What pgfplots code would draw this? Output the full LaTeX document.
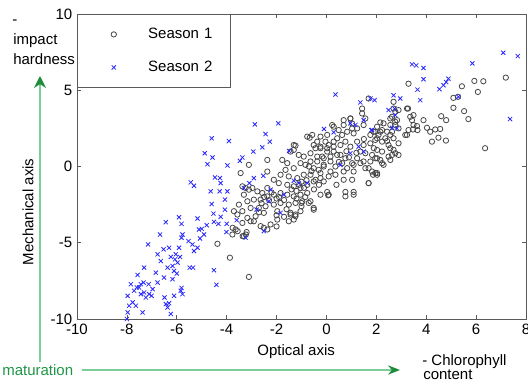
\documentclass[border=0pt]{standalone}
\usepackage{fontspec}
\setmainfont{Liberation Sans}
\usepackage{pgfplots}
\pgfplotsset{compat=1.18}
\usetikzlibrary{arrows.meta}
\definecolor{arrowgreen}{RGB}{125,205,155}
\definecolor{headgreen}{RGB}{30,140,60}
\definecolor{textgreen}{RGB}{30,150,70}
\definecolor{axgray}{RGB}{90,90,90}
\definecolor{s2blue}{RGB}{40,40,255}
\newcommand{\fs}{\fontsize{11.25}{13}\selectfont}
\begin{document}
\begin{tikzpicture}
\begin{axis}[
  at={(0,0)}, anchor=south west, scale only axis,
  width=336.75pt, height=228.75pt,
  xmin=-10, xmax=8, ymin=-10, ymax=10,
  xtick={-10,-8,...,8}, ytick={-10,-5,0,5,10},
  tick align=inside, major tick length=3pt,
  axis line style={axgray, line width=0.6pt},
  tick style={axgray, line width=0.5pt},
  tick label style={font=\fs},
  /pgf/number format/assume math mode=true,
  xlabel={Optical axis}, ylabel={Mechanical axis},
  label style={font=\fs},
  xlabel style={at={(axis description cs:0.488,-0.1082)}, anchor=center},
  ylabel style={at={(axis description cs:-0.1091,0.351)}, anchor=center},
  legend cell align=left,
  legend style={at={(0,1)}, anchor=north west, draw=axgray, line width=0.6pt,
    inner xsep=7pt, inner ysep=9.5pt, row sep=13.75pt, font=\fs,
    nodes={inner sep=0pt, text height=8.5pt, text depth=2.5pt, text width=54.5pt}},
  legend image code/.code={\path (0pt,0pt) (45.5pt,0pt); \draw[#1, only marks] plot coordinates {(20pt,0pt)};},
]
\addplot[only marks, mark=o, mark size=2pt, mark options={draw=black!72, line width=0.6pt}] coordinates {
(7.19,5.83)(5.93,5.61)(6.29,5.59)(6.07,4.89)(5.43,5.26)(5.09,4.5)(5.27,4.57)(5.09,3.85)(5.52,3.63)(5.69,3.11)(6.36,1.2)(3.29,5.43)(3.27,3.80)(3.49,3.37)(3.43,3.04)(3.29,2.39)(3.16,2.07)(3.47,2.43)(3.65,2.39)(3.89,3.04)(4.03,2.54)(4.16,2.28)(4.36,2.43)(4.56,2.46)(4.6,3.30)(4.8,3.04)(4.23,1.63)(4.49,1.89)(4.79,1.70)(2.69,4.24)(2.69,3.80)(2.89,3.70)(2.56,3.15)(2.83,3.04)(2.76,2.72)(2.89,2.50)(2.63,2.28)(3.23,3.80)(1.43,3.80)(1.69,4.46)(2.29,2.83)(2.16,2.28)(1.96,2.28)(2.03,1.85)(2.23,1.63)(2.36,1.85)(2.49,1.41)(2.89,1.52)(2.69,1.09)(2.63,0.76)(2.89,0.76)(2.49,0.65)(2.16,0.43)(1.96,0.54)(2.29,0.11)(1.69,-0.11)(1.87,-0.54)(1.69,-1.09)(2.03,-0.43)(1.09,-1.85)(0.76,-1.96)(0.07,-1.89)
(2.76,3.59)(2.63,3.26)(2.76,2.93)(2.56,2.72)(3.36,3.26)(3.49,2.72)(3.63,2.65)(3.23,2.07)(2.16,2.89)(2.03,2.61)(2.23,2.39)(1.89,2.28)(2.09,2.07)(2.43,2.28)(2.56,2.07)(2.69,1.85)(2.43,1.67)(1.96,1.74)(1.76,2.07)(1.49,2.72)(1.56,3.15)(1.43,3.48)(0.96,3.15)(1.03,2.82)(1.23,2.50)(1.09,2.17)(0.83,2.28)(0.69,2.72)(0.63,2.07)(0.43,1.85)(0.23,2.72)(0.03,2.07)(-0.04,1.63)(-0.24,1.96)(-0.37,1.63)(-0.57,2.07)(-0.51,1.41)(-0.24,1.20)(0.09,1.41)(0.29,1.63)(0.56,1.41)(0.76,1.63)(0.96,1.30)(1.23,1.63)(1.49,1.41)(1.76,1.52)(1.36,0.98)(1.56,0.87)(1.83,0.76)(2.03,1.09)(2.23,0.98)(2.56,1.20)(2.76,0.87)(2.56,0.43)(2.23,0.22)(2.03,0.54)(1.76,0.33)(1.49,0.33)(1.23,0.54)(1.03,0.22)(0.76,0.54)(0.56,0.76)(0.29,0.98)(0.03,0.98)(-0.17,0.65)(-0.37,0.33)(-0.51,-0.11)(-0.11,0.11)(0.16,0.33)(0.36,0.0)(0.63,0.22)(0.83,-0.11)(1.09,0.11)(1.36,0.22)(1.56,-0.11)(1.83,-0.33)(2.03,-0.54)(1.09,-0.33)(0.69,-0.33)(0.36,-0.54)(0.09,-0.65)(-0.24,-0.43)(-0.44,-0.87)(-0.11,-0.98)(0.69,-0.87)(1.03,-0.87)(1.69,-1.09)(1.96,-0.43)(1.09,-1.67)(0.76,-1.67)(0.03,-1.67)
(-1.31,1.41)(-1.44,0.98)(-1.11,0.76)(-0.91,0.65)(-0.64,0.87)(-0.44,1.2)(-0.24,1.30)(0.03,1.2)(0.29,1.30)(0.43,0.76)(0.16,0.65)(-0.11,0.54)(-0.37,0.65)(-0.64,0.33)(-0.84,0.11)(-1.04,0.22)(-1.31,-0.11)(-1.57,0.22)(-1.77,0.43)(-1.64,-0.22)(-1.84,-0.54)(-1.51,-0.65)(-1.17,-0.76)(-0.91,-0.54)(-0.64,-0.54)(-0.31,-0.22)(-0.11,0.0)(0.16,-0.33)(-0.24,-0.76)(-0.51,-0.98)(-0.77,-1.2)(-1.04,-1.41)(-1.31,-1.30)(-1.57,-1.2)(-1.91,-1.09)(-2.11,-0.87)(-2.37,-1.41)(-2.57,-1.74)(-2.77,-1.63)(-2.97,-1.41)(-3.24,-1.41)(-3.31,-1.85)(-2.91,-2.17)(-2.64,-2.17)(-2.37,-1.96)(-2.11,-1.85)(-1.84,-1.74)(-1.57,-1.85)(-1.31,-1.96)(-1.04,-1.85)(-0.77,-1.74)(-0.97,-2.28)(-1.24,-2.39)(-1.51,-2.50)(-1.84,-2.39)(-2.11,-2.50)(-2.44,-2.61)(-2.71,-2.72)(-3.04,-2.72)(-3.37,-2.93)(-3.57,-3.15)(-3.17,-3.37)(-2.84,-3.26)(-2.51,-3.04)(-1.97,-2.93)(-1.44,-3.04)(-1.24,-3.26)(-1.51,-3.59)(-1.97,-3.48)(-2.24,-3.80)(-2.51,-4.02)(-3.04,-3.59)(-3.37,-3.70)(-3.64,-4.13)(-3.31,-4.56)(-0.51,-2.72)(-0.24,-1.85)(0.09,-1.85)(-0.64,-2.28)
(-3.87,-5.98)(-3.11,-7.24)(-4.37,-5.07)(-3.76,-4.02)(-3.56,-4.24)(-3.36,-4.57)(-3.23,-4.46)(-3.71,-2.93)(-3.51,-2.5)(-3.17,-2.28)(-3.37,-1.30)(-3.11,-1.52)(-3.44,-0.43)(-3.11,0.11)(-2.37,0.43)(-2.37,-0.33)(-2.91,-3.59)(-2.64,-3.91)(-2.37,-4.13)(-2.0,-3.93)(-1.44,-3.15)(-1.31,-3.48)(-1.24,-3.15)(-1.04,-2.93)(-0.71,-2.39)(-0.51,-2.83)(-1.0,-2.39)(-0.77,1.96)(-0.67,1.89)(-1.24,1.37)(-1.31,1.09)(0.29,2.61)(0.49,2.39)(0.69,3.04)(0.96,3.15)(1.03,2.50)(-3.77,-4.46)(-3.2,-4.3)
(-2.5,-2.0)(-2.3,-2.2)(-2.2,-1.7)(-2.6,-2.4)(-2.0,-2.1)(-1.9,-2.0)(-1.7,-2.2)(-1.2,-1.6)(-1.1,-1.2)(-0.9,-1.4)(-1.0,-1.0)(-0.8,-0.9)(-1.4,-1.5)(-1.2,-2.1)(-1.6,-2.8)(-1.0,-2.6)(-0.85,-2.0)(-2.7,-3.0)(-2.0,-3.2)(-1.7,-3.3)(-0.5,-1.5)(-0.3,-1.2)(0.4,-1.2)(0.5,0.3)(0.9,0.6)(1.2,0.9)(1.5,1.8)(1.9,1.2)(0.8,1.0)(-0.7,0.0)(-0.6,-0.3)
};
\addlegendentry{Season 1}
\addplot[only marks, mark=x, mark size=2.2pt, color=s2blue, mark options={line width=0.6pt}] coordinates {
(7.09,7.46)(7.67,7.24)(7.36,3.11)(5.85,6.76)(3.43,6.70)(3.6,6.63)(3.89,6.46)(3.89,5.72)(3.65,5.04)(3.76,4.35)(4.53,5.07)(4.69,5.33)(4.8,5.54)(4.89,5.76)(5.29,4.57)(2.69,4.67)(2.73,3.80)(2.49,3.70)(2.96,4.46)(2.76,3.37)(2.83,2.5)(2.63,2.54)(1.76,4.46)(1.93,4.35)(1.36,4.2)(0.36,4.72)(-0.1,2.46)(0.29,2.24)(0.96,2.83)(1.16,2.72)(1.49,3.04)(1.8,2.39)(1.29,1.3)(0.56,0.1)(-1.5,1.02)(-1.93,2.83)(-2.87,2.76)(-2.44,2.13)(-2.27,1.63)(-2.57,1.26)(-2.93,0.98)(-3.37,0.59)(-3.47,0.37)(-3.91,1.67)(-3.97,0.07)(-4.6,1.85)(-4.88,0.87)(-4.77,0.15)(-4.57,0.59)(-5.44,-1.04)(-5.31,-1.26)(-4.47,-0.72)(-4.27,-0.76)(-4.24,-1.09)(-4.64,-1.63)(-4.28,-1.63)(-3.97,-1.63)(-4.07,-2.17)(-4.6,-2.46)(-4.53,-3.09)(-4.07,-2.83)(-4.24,-3.30)(-4.51,-3.63)(-4.33,-3.76)(-4.0,-3.76)(-3.6,-3.52)(-4.01,-4.30)(-5.17,-3.41)(-5.11,-4.13)(-5.0,-4.09)(-4.8,-3.85)(-4.91,-4.46)(-5.07,-4.72)(-5.17,-5.33)(-5.37,-5.11)(-5.31,-5.54)(-5.48,-6.63)(-5.35,-6.63)(-5.53,-4.89)(-5.91,-3.33)(-5.81,-3.76)(-5.77,-4.46)(-5.81,-4.67)(-5.91,-5.33)(-6.04,-5.76)(-5.87,-5.93)(-6.07,-6.09)(-5.97,-6.30)(-6.17,-6.52)(-6.11,-6.85)(-6.0,-7.02)(-6.31,-5.33)(-6.53,-5.43)(-6.24,-5.93)(-6.37,-6.63)(-6.51,-7.28)(-6.17,-7.39)(-6.67,-4.46)(-6.44,-3.65)(-6.77,-5.76)(-6.64,-6.2)(-6.84,-6.96)(-6.77,-7.61)(-7.15,-5.11)(-7.31,-6.63)(-7.33,-7.61)(-7.57,-7.11)(-7.44,-7.72)(-7.51,-7.93)(-7.13,-7.72)(-6.97,-8.04)(-7.31,-8.26)(-7.11,-8.37)(-7.01,-8.48)(-7.24,-8.59)(-7.44,-8.37)(-7.6,-7.93)(-7.84,-7.72)(-7.71,-8.15)(-7.97,-8.48)(-7.77,-8.91)(-7.91,-9.13)(-7.97,-9.57)(-7.64,-9.13)(-7.37,-9.57)(-8.0,-10.0)(-6.49,-8.59)(-6.44,-9.02)(-6.31,-8.96)(-6.37,-9.24)(-6.24,-9.67)(-6.11,-8.48)(-5.84,-8.15)(-5.77,-8.37)(-5.81,-7.96)(-4.51,-6.80)(-4.41,-7.76)(-2.53,-0.61)(-2.91,-0.76)(-3.09,-1.09)(-3.31,-1.41)(-1.71,-1.85)(-2.24,-1.52)(-1.84,-3.04)(-2.51,-4.24)(-2.8,-2.83)(-3.24,-4.67)(-2.31,-2.28)(-1.11,-1.09)(-0.77,-1.09)(-1.31,-0.93)(0.96,0.87)(1.49,0.98)(1.83,2.39)
};
\addlegendentry{Season 2}
\end{axis}
\begin{scope}[x=0.75pt, y=0.75pt, font=\fs]
  \node[anchor=base west, inner sep=0pt] at (-65,294.5) {-};
  \node[anchor=base west, inner sep=0pt] at (-64,275) {impact};
  \node[anchor=base west, inner sep=0pt] at (-64,255) {hardness};
  \draw[arrowgreen, line width=1pt, -{Stealth[length=9pt, width=9pt, color=headgreen]}] (-37,-43) -- (-37,243);
  \draw[arrowgreen, line width=1pt, -{Stealth[length=9pt, width=7pt, color=headgreen]}] (5,-51) -- (323,-51);
  \node[anchor=base west, inner sep=0pt, text=textgreen] at (-75,-56) {maturation};
  \node[anchor=base west, inner sep=0pt] at (345,-46) {- Chlorophyll};
  \node[anchor=base west, inner sep=0pt] at (346,-60) {content};
\end{scope}
\pgfresetboundingbox
\path[use as bounding box] (-57.75pt,-48pt) rectangle (338.25pt,239.25pt);
\end{tikzpicture}
\end{document}
